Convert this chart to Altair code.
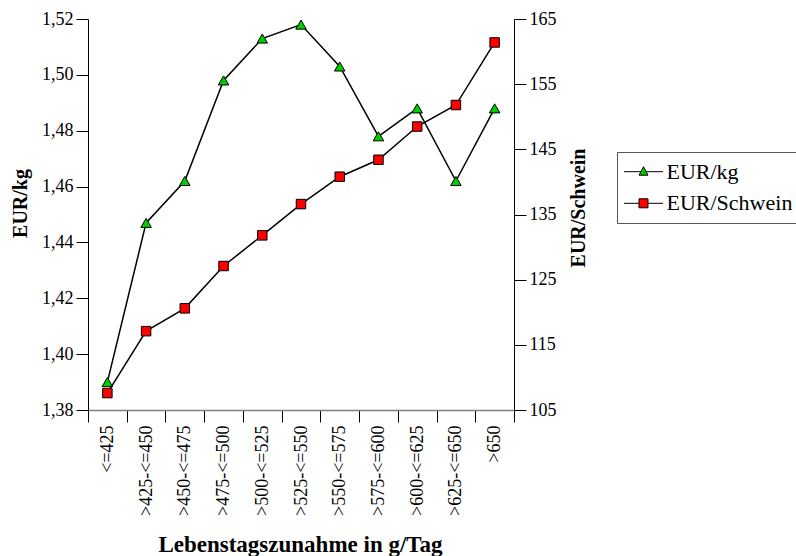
import altair as alt
import pandas as pd

# Weight-gain classes (g/day) and the two price series
categories = ["<=425", ">425-<=450", ">450-<=475", ">475-<=500", ">500-<=525",
              ">525-<=550", ">550-<=575", ">575-<=600", ">600-<=625",
              ">625-<=650", ">650"]
eur_kg = [1.390, 1.447, 1.462, 1.498, 1.513, 1.518, 1.503, 1.478, 1.488, 1.462, 1.488]
eur_schwein = [107.6, 117.1, 120.6, 127.1, 131.8, 136.6, 140.8, 143.4, 148.5, 151.8, 161.4]
series_names = ["EUR/kg", "EUR/Schwein"]
series_colors = ["#00cc00", "#ff0000"]
kg_ticks = [1.38, 1.40, 1.42, 1.44, 1.46, 1.48, 1.50, 1.52]
schwein_ticks = [105, 115, 125, 135, 145, 155, 165]

df = pd.DataFrame({"klasse": categories, "kg": eur_kg, "schwein": eur_schwein})

FONT = "Liberation Serif"
W, H = 438, 397          # view incl. 6px margin so ticks can cross the axis lines
X0, X1 = 6, 432          # x range inside the view
Y_BOTTOM = 391

x_enc = alt.X(
    "klasse:N", sort=categories,
    scale=alt.Scale(type="band", domain=categories, range=[X0, X1],
                    paddingInner=0, paddingOuter=0),
    axis=alt.Axis(
        title="Lebenstagszunahme in g/Tag", titleFont=FONT, titleFontSize=23,
        titleFontWeight="bold", titleColor="black", titleX=218, titleY=141,
        titleAlign="center", titleBaseline="alphabetic",
        labelFont=FONT, labelFontSize=18, labelColor="black", labelAngle=270,
        labelPadding=3, tickSize=12, tickColor="black", tickWidth=1,
        tickBand="extent", domainColor="#808080", domainWidth=1.5,
        offset=-6, grid=False,
    ),
)

# legend symbols: a short line with the marker on it
tri_path = "M-3.9,0L-0.53,0M0.53,0L3.9,0M0,-1L0.9,0.7L-0.9,0.7Z"
sq_path = "M-3.9,0L-0.9,0M0.9,0L3.9,0M-0.9,-0.9L0.9,-0.9L0.9,0.9L-0.9,0.9Z"
legend = alt.Legend(
    orient="none", legendX=535, legendY=133, title=None,
    labelFont=FONT, labelFontSize=22, labelColor="black",
    symbolSize=100, symbolStrokeColor="black", symbolStrokeWidth=1, symbolOpacity=1,
    padding=8.7, rowPadding=9.6, symbolOffset=6.8, labelOffset=12,
    strokeColor="#555555", fillColor="white",
)

common_axis = dict(
    titleFont=FONT, titleFontSize=20, titleFontWeight="bold", titleColor="black",
    titleAngle=270, titleAlign="center", titleBaseline="alphabetic",
    labelFont=FONT, labelFontSize=18, labelColor="black", labelPadding=3,
    tickSize=12, tickColor="black", tickWidth=1, domainColor="black",
    domainWidth=1, offset=-6, grid=False,
)

y_kg = alt.Y(
    "kg:Q", scale=alt.Scale(domain=[1.38, 1.52], range=[Y_BOTTOM, 0], nice=False, zero=False),
    axis=alt.Axis(orient="left", values=kg_ticks, title="EUR/kg", titleX=-62, titleY=184,
                  labelExpr="replace(format(datum.value, '.2f'), '.', ',')", **common_axis),
)
y_sw = alt.Y(
    "schwein:Q", scale=alt.Scale(domain=[105, 165], range=[Y_BOTTOM, 0], nice=False, zero=False),
    axis=alt.Axis(orient="right", values=schwein_ticks, format="d", title="EUR/Schwein",
                  titleX=70, titleY=188.5, **common_axis),
)

base = alt.Chart(df)

kg_line = base.mark_line(color="black", strokeWidth=1.5).encode(x=x_enc, y=y_kg)
kg_pts = base.mark_point(
    filled=True, shape="triangle-up", size=110, fill=series_colors[0],
    stroke="black", strokeWidth=1, opacity=1
).encode(x=x_enc, y=y_kg)

# carries the legend (line + marker symbols); the marks themselves are hidden
kg_key = base.transform_calculate(series="'EUR/kg'").mark_point(
    filled=True, strokeWidth=1, opacity=0
).encode(
    x=x_enc, y=y_kg,
    fill=alt.Fill("series:N", scale=alt.Scale(domain=series_names, range=series_colors),
                  legend=legend),
    stroke=alt.Stroke("series:N", scale=alt.Scale(domain=series_names, range=["black", "black"]),
                      legend=legend),
    shape=alt.Shape("series:N", scale=alt.Scale(domain=series_names, range=[tri_path, sq_path]),
                    legend=legend),
)

sw_line = base.mark_line(color="black", strokeWidth=1.5).encode(x=x_enc, y=y_sw)
sw_pts = base.mark_point(
    filled=True, shape="square", size=90, fill=series_colors[1],
    stroke="black", strokeWidth=1, opacity=1
).encode(x=x_enc, y=y_sw)

chart = alt.layer(
    alt.layer(kg_line, kg_key, kg_pts),
    alt.layer(sw_line, sw_pts),
).resolve_scale(y="independent").properties(
    width=W, height=H,
    autosize=alt.AutoSizeParams(type="none"),
    padding={"left": 82, "top": 19, "right": 276, "bottom": 140},
    background="white",
).configure_view(stroke=None)

chart.save("out.html", embed_options={"renderer": "svg", "actions": False})
